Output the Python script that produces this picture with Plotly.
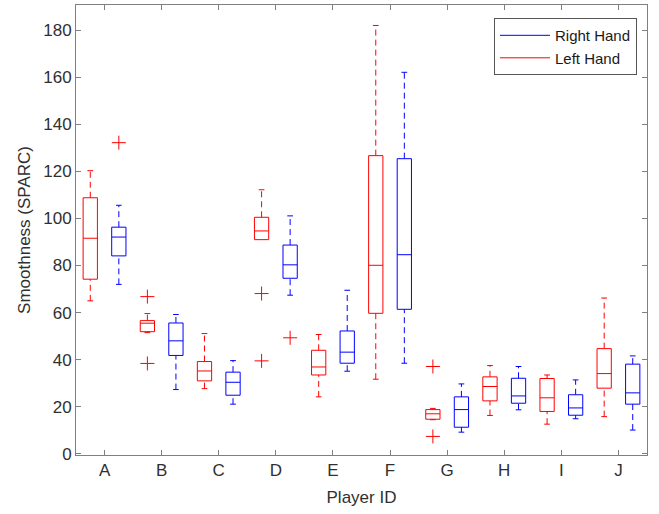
import plotly.graph_objects as go

players = ["A", "B", "C", "D", "E", "F", "G", "H", "I", "J"]

# Left hand (red) statistics
left_lw = [65.0, 51.5, 27.7, 91.0, 24.2, 31.7, 14.5, 16.3, 12.6, 15.8]
left_q1 = [74.2, 51.9, 31.0, 91.0, 33.5, 59.7, 14.7, 22.5, 18.0, 27.9]
left_med = [91.6, 55.5, 35.2, 94.7, 36.9, 80.1, 17.0, 28.6, 23.8, 34.1]
left_q3 = [108.8, 56.6, 39.2, 100.5, 44.0, 126.7, 18.8, 32.7, 32.0, 44.7]
left_uw = [120.3, 59.6, 51.1, 112.2, 50.7, 182.0, 19.3, 37.5, 33.5, 66.2]

# Right hand (blue) statistics
right_lw = [72.0, 27.3, 21.1, 67.4, 35.1, 38.5, 9.2, 18.7, 14.9, 10.1]
right_q1 = [84.1, 41.8, 24.9, 74.6, 38.5, 61.4, 11.3, 21.5, 16.4, 21.1]
right_med = [92.1, 48.0, 30.4, 80.3, 43.2, 84.6, 18.8, 24.6, 19.5, 25.9]
right_q3 = [96.3, 55.6, 34.7, 88.7, 52.2, 125.4, 24.2, 32.1, 25.1, 38.1]
right_uw = [105.6, 59.2, 39.6, 101.1, 69.5, 162.1, 29.7, 37.1, 31.4, 41.6]

# Outliers: (player, hand, value)
out_player = ["A", "B", "B", "D", "D", "D", "G", "G"]
out_hand = ["R", "L", "L", "L", "L", "R", "L", "L"]
out_value = [132.2, 66.8, 38.4, 68.1, 39.5, 49.3, 37.1, 7.4]

RED = "#FF0000"
BLUE = "#0000FF"
OFFSET = 0.25
BOX_W = 0.25
CAP_W = 0.1

idx = {p: i + 1 for i, p in enumerate(players)}
fig = go.Figure()


def add_group(sign, color, lw, q1, med, q3, uw):
    xs = [idx[p] + sign * OFFSET for p in players]
    bx, by, wx, wy, cx, cy = [], [], [], [], [], []
    h = BOX_W / 2
    for x, a, b, m, c, d in zip(xs, lw, q1, med, q3, uw):
        bx += [x - h, x + h, x + h, x - h, x - h, None, x - h, x + h, None]
        by += [b, b, c, c, b, None, m, m, None]
        if a < b:
            wx += [x, x, None]
            wy += [a, b, None]
            cx += [x - CAP_W / 2, x + CAP_W / 2, None]
            cy += [a, a, None]
        if d > c:
            wx += [x, x, None]
            wy += [c, d, None]
            cx += [x - CAP_W / 2, x + CAP_W / 2, None]
            cy += [d, d, None]
    fig.add_trace(go.Scatter(x=wx, y=wy, mode="lines",
                             line=dict(color=color, width=1, dash="6px,4px"),
                             showlegend=False, hoverinfo="skip"))
    fig.add_trace(go.Scatter(x=cx, y=cy, mode="lines",
                             line=dict(color=color, width=1),
                             showlegend=False, hoverinfo="skip"))
    fig.add_trace(go.Scatter(x=bx, y=by, mode="lines",
                             line=dict(color=color, width=1),
                             showlegend=False, hoverinfo="skip"))


add_group(-1, RED, left_lw, left_q1, left_med, left_q3, left_uw)
add_group(1, BLUE, right_lw, right_q1, right_med, right_q3, right_uw)

ox = [idx[p] + (-OFFSET if h == "L" else OFFSET) for p, h in zip(out_player, out_hand)]
fig.add_trace(go.Scatter(x=ox, y=out_value, mode="markers",
                         marker=dict(symbol="cross-thin", size=10,
                                     line=dict(color=RED, width=1)),
                         showlegend=False, hoverinfo="skip"))

# legend entries
fig.add_trace(go.Scatter(x=[None], y=[None], mode="lines", name="Right Hand",
                         line=dict(color=BLUE, width=1)))
fig.add_trace(go.Scatter(x=[None], y=[None], mode="lines", name="Left Hand",
                         line=dict(color=RED, width=1)))

TXT = "#303030"
axis_common = dict(showline=True, linecolor="#808080", linewidth=1, mirror="ticks",
                   ticks="inside", ticklen=5, tickcolor="#808080", showgrid=False,
                   zeroline=False, automargin=False,
                   tickfont=dict(size=17, color=TXT))

fig.update_layout(
    width=659, height=514,
    margin=dict(l=76, r=12, t=5, b=59),
    paper_bgcolor="white", plot_bgcolor="white",
    font=dict(family="Liberation Sans, Arial, sans-serif", color=TXT),
    xaxis=dict(range=[0.5, 10.5], tickvals=list(range(1, 11)), ticktext=players,
               title=dict(text="Player ID", font=dict(size=17), standoff=11),
               **axis_common),
    yaxis=dict(range=[-0.5, 190.7], tickvals=list(range(0, 181, 20)),
               title=dict(text="Smoothness (SPARC)", font=dict(size=17), standoff=8),
               **axis_common),
    legend=dict(x=0.9825, y=0.971, xanchor="right", yanchor="top",
                bordercolor="#555555", borderwidth=1, bgcolor="white",
                font=dict(size=15, color="#1a1a1a"), tracegroupgap=0,
                itemwidth=50),
)

fig.write_html("out.html", config={"displayModeBar": False},
               post_script="document.body.style.margin='0';")
